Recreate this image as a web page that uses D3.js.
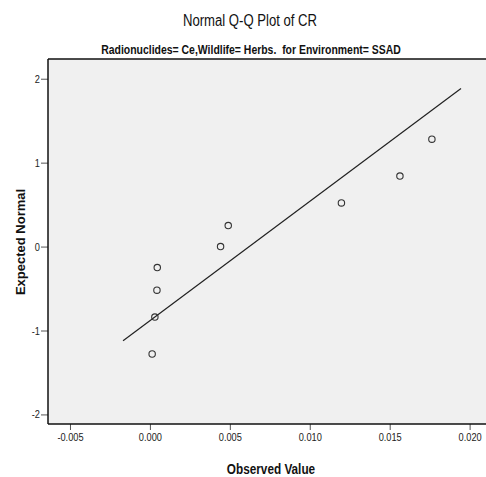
<!DOCTYPE html>
<html>
  <head>
    <meta charset="UTF-8">
    <title>Normal Q-Q Plot of CR</title>
    <script src="https://d3js.org/d3.v7.min.js"></script>
    <style>
      body { margin: 0; background: #fff; }
      text { font-family: "Liberation Sans", Arial, sans-serif; }
      .tick text { font-size: 11px; fill: #222; }
      .tick line { stroke: #555; }
    </style>
  </head>
  <body>
    <div id="chart"></div>
    <script>
      const observed = [0.00014, 0.00031, 0.00044, 0.00046, 0.00442, 0.0049, 0.01198, 0.01564, 0.01764];
      const expected = [-1.28, -0.84, -0.52, -0.25, 0.0, 0.25, 0.52, 0.84, 1.28];
      const xTicks = [-0.005, 0.000, 0.005, 0.010, 0.015, 0.020];
      const yTicks = [-2, -1, 0, 1, 2];

      const width = 486;
      const height = 477;
      const margin = { top: 59, right: -4, bottom: 53, left: 48 };
      const plotW = width - margin.left - margin.right;
      const plotH = height - margin.top - margin.bottom;

      const svg = d3.select("#chart")
        .append("svg")
        .attr("width", width)
        .attr("height", height);

      const x = d3.scaleLinear()
        .domain([-0.006375, 0.021275])
        .range([0, plotW]);

      const y = d3.scaleLinear()
        .domain([-2.114, 2.235])
        .range([plotH, 0]);

      const g = svg.append("g")
        .attr("transform", `translate(${margin.left},${margin.top})`);

      g.append("rect")
        .attr("width", plotW)
        .attr("height", plotH)
        .attr("fill", "#f0f0f0");

      // squeeze text to look like a narrow font
      function narrow(sel, k) {
        sel.each(function () {
          const len = this.getComputedTextLength();
          d3.select(this).attr("textLength", len * k).attr("lengthAdjust", "spacingAndGlyphs");
        });
      }

      const hyphen = f => d => f(d).replace("\u2212", "-");

      // axes
      const xAxis = g.append("g")
        .attr("transform", `translate(0,${plotH})`)
        .call(d3.axisBottom(x).tickValues(xTicks).tickFormat(hyphen(d3.format(".3f"))).tickSize(6).tickPadding(3));
      xAxis.select(".domain").remove();
      narrow(xAxis.selectAll(".tick text"), 0.84);

      const yAxis = g.append("g")
        .call(d3.axisLeft(y).tickValues(yTicks).tickFormat(hyphen(d3.format("d"))).tickSize(7).tickPadding(1));
      yAxis.select(".domain").remove();
      narrow(yAxis.selectAll(".tick text"), 0.84);

      // frame
      g.append("line").attr("x1", 0).attr("x2", plotW).attr("y1", 0).attr("y2", 0)
        .attr("stroke", "#111").attr("stroke-width", 1.5);
      g.append("line").attr("x1", 0).attr("x2", 0).attr("y1", 0).attr("y2", plotH)
        .attr("stroke", "#111").attr("stroke-width", 1.5);
      g.append("line").attr("x1", 0).attr("x2", plotW).attr("y1", plotH).attr("y2", plotH)
        .attr("stroke", "#111").attr("stroke-width", 1.5);

      // reference line: expected = (observed - mean) / sd
      const mean = d3.mean(observed);
      const sd = d3.deviation(observed);
      const ext = d3.extent(observed);
      const pad = (ext[1] - ext[0]) * 0.104;
      const lineX = [ext[0] - pad, ext[1] + pad];
      g.append("path")
        .datum(lineX)
        .attr("fill", "none")
        .attr("stroke", "#222")
        .attr("stroke-width", 1.2)
        .attr("d", d3.line().x(d => x(d)).y(d => y((d - mean) / sd)));

      // points
      g.selectAll("circle.pt")
        .data(observed)
        .enter()
        .append("circle")
        .attr("class", "pt")
        .attr("cx", d => x(d))
        .attr("cy", (d, i) => y(expected[i]))
        .attr("r", 3.2)
        .attr("fill", "none")
        .attr("stroke", "#333")
        .attr("stroke-width", 1.1);

      // titles
      svg.append("text")
        .attr("x", 250).attr("y", 26)
        .attr("text-anchor", "middle")
        .attr("font-size", 16)
        .attr("fill", "#111")
        .text("Normal Q-Q Plot of CR")
        .call(narrow, 0.82);

      svg.append("text")
        .attr("x", 251).attr("y", 54)
        .attr("text-anchor", "middle")
        .attr("font-size", 12)
        .attr("font-weight", "bold")
        .attr("fill", "#111")
        .style("white-space", "pre")
        .text("Radionuclides= Ce,Wildlife= Herbs.  for Environment= SSAD")
        .call(narrow, 0.87);

      svg.append("text")
        .attr("x", 271).attr("y", 474)
        .attr("text-anchor", "middle")
        .attr("font-size", 14)
        .attr("font-weight", "bold")
        .attr("fill", "#111")
        .text("Observed Value")
        .call(narrow, 0.84);

      svg.append("text")
        .attr("transform", "translate(25,242) rotate(-90)")
        .attr("text-anchor", "middle")
        .attr("font-size", 13)
        .attr("font-weight", "bold")
        .attr("fill", "#111")
        .text("Expected Normal");
    </script>
  </body>
</html>
